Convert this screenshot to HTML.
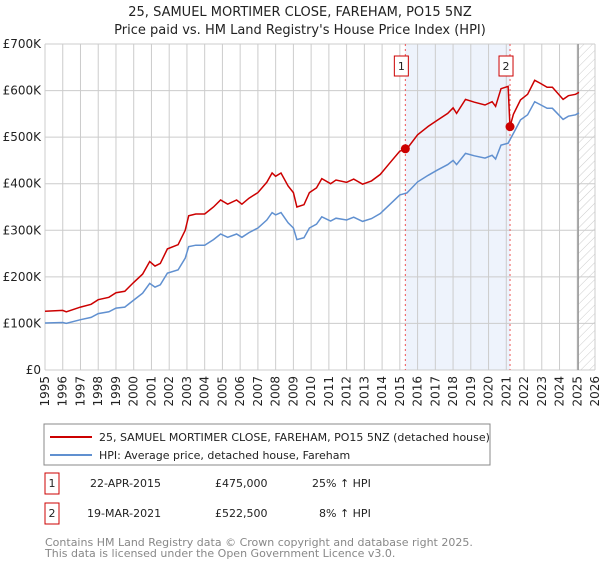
<!DOCTYPE html>
<html><head><meta charset="utf-8"><style>
body{margin:0;background:#fff;font-family:"DejaVu Sans","Liberation Sans",sans-serif;}
svg text{font-family:"DejaVu Sans","Liberation Sans",sans-serif;}
</style></head><body>
<svg id="chart" width="600" height="560" xmlns="http://www.w3.org/2000/svg">
<defs><pattern id="hatch" width="6" height="6" patternUnits="userSpaceOnUse" patternTransform="rotate(45)"><line x1="0" y1="0" x2="0" y2="6" stroke="#ccc" stroke-width="1"/></pattern></defs>
<text x="300" y="16" text-anchor="middle" font-size="13" fill="#222">25, SAMUEL MORTIMER CLOSE, FAREHAM, PO15 5NZ</text>
<text x="300" y="34" text-anchor="middle" font-size="13" fill="#222">Price paid vs. HM Land Registry's House Price Index (HPI)</text>
<g id="grid"></g>
<g id="marks"></g>
<g id="axes"></g>
<rect x="44" y="424" width="446" height="41" fill="#fff" stroke="#888"/>
<line x1="50" y1="437" x2="92" y2="437" stroke="#cc0000" stroke-width="2"/>
<text x="99" y="441" font-size="11" fill="#222">25, SAMUEL MORTIMER CLOSE, FAREHAM, PO15 5NZ (detached house)</text>
<line x1="50" y1="455" x2="92" y2="455" stroke="#6090d0" stroke-width="2"/>
<text x="99" y="459" font-size="11" fill="#222">HPI: Average price, detached house, Fareham</text>
<g font-size="11" fill="#222">
<rect x="45" y="473" width="14" height="21" fill="#fff" stroke="#cc0000"/><text x="52" y="487" text-anchor="middle">1</text>
<text x="90" y="487">22-APR-2015</text><text x="215" y="487">£475,000</text><text x="312" y="487">25% ↑ HPI</text></g>
<g font-size="11" fill="#222">
<rect x="45" y="503" width="14" height="21" fill="#fff" stroke="#cc0000"/><text x="52" y="517" text-anchor="middle">2</text>
<text x="87" y="517">19-MAR-2021</text><text x="215" y="517">£522,500</text><text x="319" y="517">8% ↑ HPI</text></g>
<text x="45" y="546" font-size="11" fill="#888">Contains HM Land Registry data © Crown copyright and database right 2025.</text>
<text x="45" y="557" font-size="11" fill="#888">This data is licensed under the Open Government Licence v3.0.</text>
</svg>
<script>
const hpiDates=[1995.0,1996.0,1996.2,1997.0,1997.6,1998.0,1998.6,1999.0,1999.5,2000.0,2000.5,2000.9,2001.2,2001.5,2001.9,2002.5,2002.9,2003.1,2003.5,2004.0,2004.5,2004.9,2005.3,2005.8,2006.1,2006.5,2007.0,2007.5,2007.8,2008.0,2008.3,2008.7,2009.0,2009.2,2009.6,2009.9,2010.3,2010.6,2011.1,2011.4,2012.0,2012.4,2012.9,2013.4,2013.9,2014.4,2015.0,2015.4,2016.0,2016.6,2017.1,2017.7,2018.0,2018.2,2018.7,2019.2,2019.8,2020.2,2020.4,2020.7,2021.1,2021.4,2021.8,2022.2,2022.6,2022.9,2023.3,2023.6,2024.2,2024.5,2024.9,2025.1];
const hpiValues=[101,102,100,108,113,121,125,133,135,150,165,186,178,183,208,215,240,265,268,268,280,292,285,292,285,295,305,322,338,333,338,316,305,280,284,305,313,329,320,326,322,328,319,325,336,354,376,380,404,418,429,441,450,441,465,460,455,461,453,483,487,508,537,548,576,570,562,562,538,545,548,552];
const priceDates=[1995.0,1996.0,1996.2,1997.0,1997.6,1998.0,1998.6,1999.0,1999.5,2000.0,2000.5,2000.9,2001.2,2001.5,2001.9,2002.5,2002.9,2003.1,2003.5,2004.0,2004.5,2004.9,2005.3,2005.8,2006.1,2006.5,2007.0,2007.5,2007.8,2008.0,2008.3,2008.7,2009.0,2009.2,2009.6,2009.9,2010.3,2010.6,2011.1,2011.4,2012.0,2012.4,2012.9,2013.4,2013.9,2014.4,2015.0,2015.4,2016.0,2016.6,2017.1,2017.7,2018.0,2018.2,2018.7,2019.2,2019.8,2020.2,2020.4,2020.7,2021.1,2021.21,2021.4,2021.8,2022.2,2022.6,2022.9,2023.3,2023.6,2024.2,2024.5,2024.9,2025.1];
const priceValues=[126,128,125,135,141,151,156,166,169,188,206,233,223,229,260,269,300,331,335,335,350,365,356,365,356,369,381,403,423,416,423,395,381,350,355,381,391,411,400,408,403,410,399,406,420,443,470,475,505,523,536,551,563,551,581,575,569,576,566,604,609,522.5,549,580,592,622,616,607,607,581,589,592,596];
const saleDates=[2015.31,2021.21];
const saleValues=[475,522.5];
const saleLabels=["1","2"];
const yTicks=[0,100,200,300,400,500,600,700];
const yTickLabels=["£0","£100K","£200K","£300K","£400K","£500K","£600K","£700K"];
const xYears=[1995,1996,1997,1998,1999,2000,2001,2002,2003,2004,2005,2006,2007,2008,2009,2010,2011,2012,2013,2014,2015,2016,2017,2018,2019,2020,2021,2022,2023,2024,2025,2026];
const dataEnd=2025.05;

const X0=45,X1=595,Y0=370,Y1=44;
const xs=t=>X0+(t-1995)/(2026-1995)*(X1-X0);
const ys=v=>Y0-v/700*(Y0-Y1);
const NS="http://www.w3.org/2000/svg";
function mk(tag,parent,attrs){const e=document.createElementNS(NS,tag);for(const k in attrs)e.setAttribute(k,attrs[k]);parent.appendChild(e);return e;}
const grid=document.getElementById('grid'),marks=document.getElementById('marks'),axes=document.getElementById('axes');

const band=mk('rect',grid,{x:xs(saleDates[0]),y:Y1,width:xs(saleDates[1])-xs(saleDates[0]),height:Y0-Y1,fill:'#eef3fc'});


const hat=mk('rect',grid,{x:xs(dataEnd),y:Y1,width:X1-xs(dataEnd),height:Y0-Y1,fill:'url(#hatch)'});


yTicks.forEach((v,i)=>{
  const l=mk('line',grid,{x1:X0,x2:X1,y1:ys(v),y2:ys(v),stroke:'#ccc','stroke-width':1});
  
  
  const t=mk('text',axes,{x:X0-4,y:ys(v)+4,'text-anchor':'end','font-size':12,fill:'#222'});
  t.textContent=yTickLabels[i];
  
  
});
xYears.forEach(yr=>{
  const l=mk('line',grid,{x1:xs(yr),x2:xs(yr),y1:Y1,y2:Y0,stroke:'#ccc','stroke-width':1});
  
  
  const t=mk('text',axes,{x:0,y:0,'text-anchor':'end','font-size':12,fill:'#222',transform:`translate(${xs(yr)+4},${Y0+6}) rotate(-90)`});
  t.textContent=yr;
  
  
});
const endLine=mk('line',grid,{x1:xs(dataEnd),x2:xs(dataEnd),y1:Y1,y2:Y0,stroke:'#999','stroke-width':1.5});



saleDates.forEach((d,i)=>{
  const l=mk('line',marks,{x1:xs(d),x2:xs(d),y1:Y1,y2:Y0,stroke:'#ee5555','stroke-width':1,'stroke-dasharray':'2,3'});
  
  
});
const hp=mk('path',marks,{d:hpiDates.map((d,i)=>(i?'L':'M')+xs(d).toFixed(1)+','+ys(hpiValues[i]).toFixed(1)).join(''),fill:'none',stroke:'#6090d0','stroke-width':1.5});


const pp=mk('path',marks,{d:priceDates.map((d,i)=>(i?'L':'M')+xs(d).toFixed(1)+','+ys(priceValues[i]).toFixed(1)).join(''),fill:'none',stroke:'#cc0000','stroke-width':1.5});


saleDates.forEach((d,i)=>{
  const c=mk('circle',marks,{cx:xs(d),cy:ys(saleValues[i]),r:4.5,fill:'#cc0000'});
  
  
  const bx=xs(d)-4;
  const r=mk('rect',marks,{x:bx-7,y:56,width:14,height:20,fill:'#fff',stroke:'#cc0000'});
  
  
  const t=mk('text',marks,{x:bx,y:70,'text-anchor':'middle','font-size':11,fill:'#222'});
  t.textContent=saleLabels[i];
  
  
});
</script>
</body></html>
